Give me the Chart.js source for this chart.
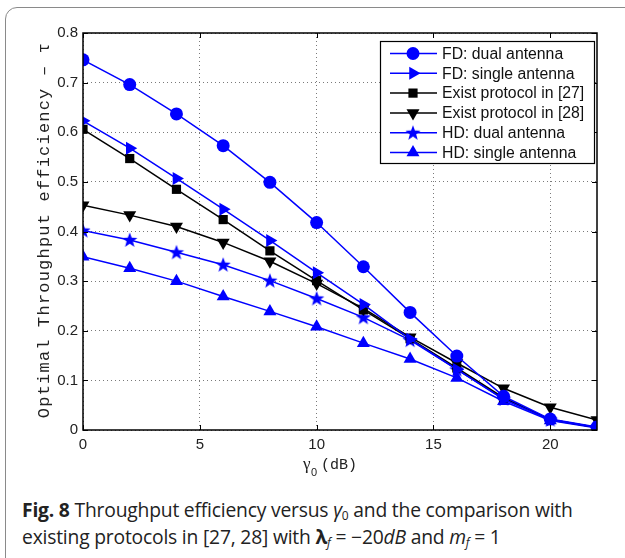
<!DOCTYPE html>
<html><head><meta charset="utf-8">
<script src="https://cdn.jsdelivr.net/npm/chart.js@4/dist/chart.umd.min.js"></script>
<style>
html,body{margin:0;padding:0;background:#fff;width:625px;height:558px;overflow:hidden;}
#frame{position:absolute;left:5px;top:7px;width:700px;height:600px;border:1.5px solid #8a8a8a;border-radius:12px;box-sizing:border-box;}
#wrap{position:absolute;left:0;top:0;width:625px;height:480px;}
#cap{position:absolute;left:22px;top:496px;width:610px;font-family:"Open Sans","Noto Sans",sans-serif;font-size:19.3px;line-height:27px;color:#222;letter-spacing:-0.2px;}
#cap b{font-weight:700;}
#cap i{font-style:italic;}
#cap sub{font-size:12px;vertical-align:-3px;line-height:0;}
</style></head><body>
<div id="frame"></div>
<div id="wrap"><canvas id="c" width="625" height="480"></canvas></div>
<div id="cap"><b>Fig. 8</b> Throughput efficiency versus <i>γ</i><sub>0</sub> and the comparison with<br>existing protocols in [27, 28] with <b>λ</b><sub><i>f</i></sub> = −20<i>dB</i> and <i>m</i><sub><i>f</i></sub> = 1</div>
<script>
const gamma0 = [0, 2, 4, 6, 8, 10, 12, 14, 16, 18, 20, 22];
const fdDual   = [0.746, 0.696, 0.637, 0.573, 0.499, 0.418, 0.329, 0.237, 0.149, 0.068, 0.022, 0.006];
const fdSingle = [0.623, 0.568, 0.507, 0.445, 0.382, 0.317, 0.253, 0.183, 0.122, 0.062, 0.020, 0.005];
const exist27  = [0.606, 0.547, 0.485, 0.424, 0.361, 0.301, 0.242, 0.184, 0.125, 0.065, 0.021, 0.005];
const exist28  = [0.453, 0.433, 0.410, 0.378, 0.340, 0.295, 0.245, 0.187, 0.135, 0.084, 0.046, 0.020];
const hdDual   = [0.402, 0.383, 0.358, 0.333, 0.301, 0.265, 0.227, 0.181, 0.122, 0.063, 0.021, 0.005];
const hdSingle = [0.349, 0.326, 0.300, 0.269, 0.239, 0.208, 0.175, 0.143, 0.105, 0.058, 0.019, 0.004];
const seriesLabels = ["FD: dual antenna","FD: single antenna","Exist protocol in [27]","Exist protocol in [28]","HD: dual antenna","HD: single antenna"];
const xTicks = [0, 5, 10, 15, 20];
const yTicks = [0, 0.1, 0.2, 0.3, 0.4, 0.5, 0.6, 0.7, 0.8];

const BLUE = '#0000ff', BLACK = '#000000';
function makeStar(color){
  const cv = document.createElement('canvas'); cv.width = 18; cv.height = 18;
  const g = cv.getContext('2d'); g.fillStyle = color; g.beginPath();
  for(let i=0;i<10;i++){const r = i%2===0?8:3.3; const a = -Math.PI/2 + i*Math.PI/5;
    const px = 9 + r*Math.cos(a), py = 9.5 + r*Math.sin(a); i===0?g.moveTo(px,py):g.lineTo(px,py);}
  g.closePath(); g.fill(); return cv;
}
const star = makeStar(BLUE);
function pts(arr){return gamma0.map((x,i)=>({x:x,y:arr[i]}));}
const styles = [
  {data:fdDual, color:BLUE, ps:'circle', r:6.5, rot:0},
  {data:fdSingle, color:BLUE, ps:'triangle', r:7.5, rot:90},
  {data:exist27, color:BLACK, ps:'rect', r:6.5, rot:0},
  {data:exist28, color:BLACK, ps:'triangle', r:7.5, rot:180},
  {data:hdDual, color:BLUE, ps:star, r:8, rot:0},
  {data:hdSingle, color:BLUE, ps:'triangle', r:7.5, rot:0}
];
const datasets = styles.map((s,i)=>({
  label: seriesLabels[i], data: pts(s.data), borderColor:s.color, backgroundColor:s.color,
  borderWidth:1.5, pointStyle:s.ps, pointRadius:s.r, pointRotation:s.rot, pointBorderWidth:0,
  pointBackgroundColor:s.color, pointBorderColor:s.color, tension:0, fill:false
}));

function marker(ctx, ps, rot, r, x, y, color){
  ctx.save(); ctx.translate(x,y); ctx.rotate(rot*Math.PI/180); ctx.fillStyle=color;
  if (ps === 'circle'){ctx.beginPath(); ctx.arc(0,0,r,0,Math.PI*2); ctx.fill();}
  else if (ps === 'rect'){const s=r/Math.SQRT2; ctx.fillRect(-s,-s,2*s,2*s);}
  else if (ps === 'triangle'){const h=r*Math.sqrt(3)/2; ctx.beginPath();
    ctx.moveTo(0,-r); ctx.lineTo(h, r/2); ctx.lineTo(-h, r/2); ctx.closePath(); ctx.fill();}
  else {ctx.drawImage(ps, -ps.width/2, -ps.height/2);}
  ctx.restore();
}

const deco = {
  id:'deco',
  afterDatasetsDraw(chart){
    const ctx = chart.ctx, a = chart.chartArea, x = chart.scales.x, y = chart.scales.y;
    ctx.save();
    ctx.setLineDash([]);
    ctx.strokeStyle='#000'; ctx.lineWidth=1;
    xTicks.forEach(v=>{const px=Math.round(x.getPixelForValue(v))+0.5;
      ctx.beginPath(); ctx.moveTo(px,a.bottom); ctx.lineTo(px,a.bottom-5); ctx.moveTo(px,a.top); ctx.lineTo(px,a.top+5); ctx.stroke();});
    yTicks.forEach(v=>{const py=Math.round(y.getPixelForValue(v))+0.5;
      ctx.beginPath(); ctx.moveTo(a.left,py); ctx.lineTo(a.left+5,py); ctx.moveTo(a.right,py); ctx.lineTo(a.right-5,py); ctx.stroke();});
    ctx.lineWidth=1.5; ctx.strokeStyle='#000';
    ctx.strokeRect(a.left, a.top, a.right-a.left, a.bottom-a.top);
    // legend
    const lx=380, ly=41, lw=214, lh=122;
    ctx.fillStyle='#fff'; ctx.fillRect(lx,ly,lw,lh);
    ctx.lineWidth=1.2; ctx.strokeStyle='#000'; ctx.strokeRect(lx+0.5,ly+0.5,lw,lh);
    ctx.font='15.8px "Liberation Sans", Arial, sans-serif'; ctx.textBaseline='middle'; ctx.textAlign='left';
    chart.data.datasets.forEach((d,i)=>{
      const cy = 53.5 + i*19.8;
      ctx.strokeStyle=d.borderColor; ctx.lineWidth=1.5;
      ctx.beginPath(); ctx.moveTo(390,cy); ctx.lineTo(437,cy); ctx.stroke();
      marker(ctx, d.pointStyle, d.pointRotation, d.pointRadius, 413, cy, d.borderColor);
      ctx.fillStyle='#111'; ctx.fillText(d.label, 442, cy+1);
    });
    // y title
    ctx.save();
    ctx.translate(44, 230); ctx.rotate(-Math.PI/2);
    ctx.font='17px "Liberation Mono", "DejaVu Sans Mono", monospace'; ctx.fillStyle='#222';
    ctx.letterSpacing='1.2px';
    ctx.textAlign='center'; ctx.textBaseline='middle';
    ctx.fillText('Optimal Throughput efficiency – τ', 0, 0);
    ctx.restore();
    // x title
    ctx.fillStyle='#222'; ctx.textBaseline='alphabetic'; ctx.textAlign='left';
    ctx.font='17px "Liberation Serif", serif'; ctx.fillText('γ', 303, 469);
    ctx.font='11px "Liberation Sans", Arial, sans-serif'; ctx.fillText('0', 311, 476);
    ctx.font='15px "Liberation Mono", monospace'; ctx.fillText('(dB)', 321, 469);
    ctx.restore();
  }
};

new Chart(document.getElementById('c'), {
  type:'line',
  data:{datasets},
  plugins:[deco],
  options:{
    responsive:false, animation:false, devicePixelRatio:1,
    layout:{padding:{left:0, right:28, top:33, bottom:0}},
    plugins:{legend:{display:false}, tooltip:{enabled:false}},
    scales:{
      x:{type:'linear', min:0, max:22,
        afterBuildTicks(s){s.ticks = xTicks.map(v=>({value:v}));},
        afterFit(s){s.height=50;},
        grid:{color:'#7a7a7a', lineWidth:1, drawTicks:false},
        border:{display:false, dash:[1,3]},
        ticks:{padding:6, color:'#222', font:{family:'"Liberation Sans", Arial, sans-serif', size:15}, maxRotation:0}},
      y:{type:'linear', min:0, max:0.8,
        afterBuildTicks(s){s.ticks = yTicks.map(v=>({value:v}));},
        afterFit(s){s.width=83;},
        grid:{color:'#7a7a7a', lineWidth:1, drawTicks:false},
        border:{display:false, dash:[1,3]},
        ticks:{padding:5, color:'#222', font:{family:'"Liberation Sans", Arial, sans-serif', size:15},
          callback:(v)=>String(Math.round(v*10)/10)}}
    }
  }
});
</script>
</body></html>
